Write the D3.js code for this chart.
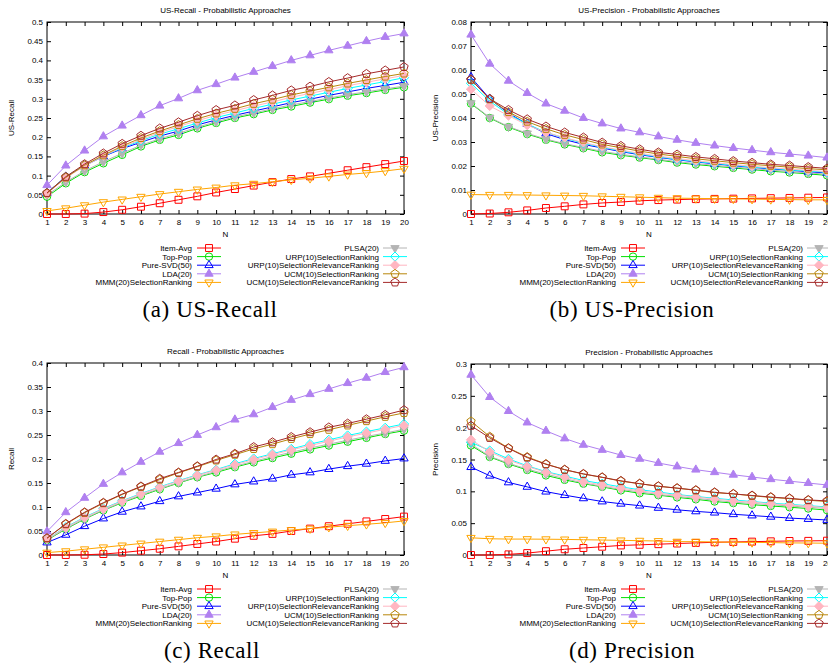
<!DOCTYPE html>
<html>
<head>
<meta charset="utf-8">
<script src="https://cdn.jsdelivr.net/npm/d3@7"></script>
<style>
  body { margin: 0; background: #fff; }
  svg { display: block; }
  text { font-family: "Liberation Sans", Arial, sans-serif; }
  .caption { font-family: "Liberation Serif", "DejaVu Serif", serif; }
</style>
</head>
<body>
<svg id="chart" width="828" height="666"></svg>
<script>
const N = d3.range(1, 21);

const seriesNames = ['Item-Avg', 'Top-Pop', 'Pure-SVD(50)', 'LDA(20)', 'MMM(20)SelectionRanking',
    'PLSA(20)', 'URP(10)SelectionRanking', 'URP(10)SelectionRelevanceRanking',
    'UCM(10)SelectionRanking', 'UCM(10)SelectionRelevanceRanking'];

// one row per series, same order as seriesNames
const usRecall = [
    [0.000, 0.000, 0.001, 0.005, 0.011, 0.019, 0.028, 0.037, 0.046, 0.056, 0.065, 0.074, 0.083, 0.091, 0.098, 0.106, 0.114, 0.122, 0.130, 0.138],
    [0.045, 0.080, 0.109, 0.132, 0.154, 0.176, 0.193, 0.206, 0.223, 0.237, 0.250, 0.260, 0.271, 0.280, 0.290, 0.299, 0.308, 0.315, 0.323, 0.330],
    [0.055, 0.097, 0.126, 0.150, 0.170, 0.187, 0.203, 0.216, 0.232, 0.245, 0.257, 0.268, 0.279, 0.290, 0.299, 0.309, 0.318, 0.327, 0.335, 0.343],
    [0.075, 0.126, 0.165, 0.202, 0.230, 0.257, 0.282, 0.301, 0.322, 0.338, 0.355, 0.370, 0.385, 0.400, 0.413, 0.426, 0.438, 0.450, 0.461, 0.470],
    [0.008, 0.015, 0.023, 0.031, 0.038, 0.045, 0.052, 0.058, 0.064, 0.069, 0.075, 0.079, 0.084, 0.089, 0.093, 0.098, 0.103, 0.107, 0.112, 0.118],
    [0.049, 0.083, 0.112, 0.136, 0.158, 0.179, 0.196, 0.210, 0.226, 0.240, 0.253, 0.263, 0.274, 0.284, 0.293, 0.302, 0.311, 0.318, 0.326, 0.333],
    [0.055, 0.097, 0.126, 0.151, 0.172, 0.191, 0.208, 0.222, 0.237, 0.251, 0.263, 0.275, 0.286, 0.297, 0.307, 0.317, 0.327, 0.336, 0.345, 0.355],
    [0.053, 0.094, 0.125, 0.151, 0.174, 0.194, 0.212, 0.228, 0.243, 0.257, 0.269, 0.281, 0.292, 0.304, 0.314, 0.324, 0.334, 0.343, 0.352, 0.361],
    [0.054, 0.095, 0.127, 0.153, 0.177, 0.198, 0.216, 0.232, 0.248, 0.262, 0.274, 0.287, 0.298, 0.310, 0.320, 0.330, 0.340, 0.349, 0.358, 0.366],
    [0.055, 0.097, 0.130, 0.158, 0.183, 0.204, 0.223, 0.239, 0.256, 0.271, 0.283, 0.297, 0.309, 0.322, 0.332, 0.344, 0.354, 0.365, 0.374, 0.383]
];

const usPrecision = [
    [0.0000, 0.0002, 0.0007, 0.0015, 0.0025, 0.0032, 0.0040, 0.0046, 0.0050, 0.0055, 0.0058, 0.0060, 0.0062, 0.0063, 0.0064, 0.0065, 0.0066, 0.0067, 0.0068, 0.0069],
    [0.0460, 0.0400, 0.0362, 0.0333, 0.0309, 0.0290, 0.0274, 0.0257, 0.0245, 0.0235, 0.0225, 0.0214, 0.0206, 0.0199, 0.0192, 0.0185, 0.0178, 0.0173, 0.0167, 0.0161],
    [0.0570, 0.0480, 0.0420, 0.0375, 0.0335, 0.0310, 0.0290, 0.0275, 0.0260, 0.0247, 0.0236, 0.0226, 0.0217, 0.0209, 0.0201, 0.0194, 0.0188, 0.0182, 0.0176, 0.0171],
    [0.0747, 0.0626, 0.0555, 0.0504, 0.0460, 0.0430, 0.0400, 0.0377, 0.0356, 0.0340, 0.0323, 0.0309, 0.0296, 0.0285, 0.0275, 0.0266, 0.0257, 0.0250, 0.0243, 0.0235],
    [0.0081, 0.0080, 0.0080, 0.0079, 0.0078, 0.0077, 0.0076, 0.0074, 0.0072, 0.0070, 0.0068, 0.0066, 0.0065, 0.0064, 0.0063, 0.0062, 0.0061, 0.0060, 0.0059, 0.0059],
    [0.0462, 0.0402, 0.0364, 0.0336, 0.0312, 0.0293, 0.0277, 0.0261, 0.0249, 0.0238, 0.0228, 0.0218, 0.0210, 0.0203, 0.0196, 0.0189, 0.0183, 0.0177, 0.0171, 0.0166],
    [0.0545, 0.0470, 0.0415, 0.0375, 0.0340, 0.0316, 0.0295, 0.0278, 0.0263, 0.0250, 0.0238, 0.0228, 0.0219, 0.0211, 0.0203, 0.0196, 0.0190, 0.0184, 0.0179, 0.0174],
    [0.0520, 0.0450, 0.0410, 0.0370, 0.0340, 0.0318, 0.0298, 0.0280, 0.0266, 0.0253, 0.0241, 0.0231, 0.0222, 0.0214, 0.0206, 0.0199, 0.0193, 0.0187, 0.0182, 0.0177],
    [0.0560, 0.0478, 0.0425, 0.0385, 0.0355, 0.0330, 0.0310, 0.0290, 0.0276, 0.0262, 0.0250, 0.0240, 0.0230, 0.0222, 0.0214, 0.0207, 0.0201, 0.0195, 0.0189, 0.0184],
    [0.0560, 0.0480, 0.0434, 0.0395, 0.0365, 0.0340, 0.0319, 0.0298, 0.0284, 0.0270, 0.0257, 0.0248, 0.0238, 0.0230, 0.0221, 0.0214, 0.0207, 0.0202, 0.0196, 0.0190]
];

const recall = [
    [0.000, 0.000, 0.0005, 0.002, 0.005, 0.009, 0.013, 0.018, 0.023, 0.028, 0.034, 0.040, 0.044, 0.050, 0.055, 0.060, 0.065, 0.070, 0.075, 0.080],
    [0.031, 0.054, 0.075, 0.093, 0.109, 0.123, 0.137, 0.150, 0.162, 0.172, 0.183, 0.193, 0.202, 0.211, 0.220, 0.228, 0.236, 0.244, 0.252, 0.259],
    [0.026, 0.042, 0.060, 0.076, 0.090, 0.101, 0.112, 0.122, 0.130, 0.138, 0.147, 0.153, 0.159, 0.167, 0.172, 0.179, 0.185, 0.190, 0.196, 0.201],
    [0.049, 0.089, 0.119, 0.148, 0.172, 0.194, 0.215, 0.233, 0.250, 0.266, 0.282, 0.293, 0.308, 0.323, 0.335, 0.346, 0.358, 0.369, 0.381, 0.391],
    [0.005, 0.008, 0.012, 0.016, 0.020, 0.024, 0.028, 0.032, 0.036, 0.039, 0.043, 0.046, 0.049, 0.052, 0.055, 0.058, 0.061, 0.064, 0.067, 0.071],
    [0.032, 0.055, 0.076, 0.094, 0.110, 0.125, 0.138, 0.151, 0.163, 0.174, 0.185, 0.195, 0.205, 0.214, 0.223, 0.231, 0.239, 0.247, 0.254, 0.262],
    [0.033, 0.058, 0.079, 0.097, 0.113, 0.128, 0.142, 0.155, 0.167, 0.178, 0.190, 0.201, 0.211, 0.221, 0.231, 0.240, 0.249, 0.257, 0.265, 0.273],
    [0.033, 0.057, 0.078, 0.096, 0.112, 0.127, 0.141, 0.154, 0.166, 0.177, 0.188, 0.199, 0.209, 0.219, 0.228, 0.237, 0.246, 0.254, 0.262, 0.270],
    [0.035, 0.064, 0.088, 0.108, 0.126, 0.142, 0.157, 0.171, 0.184, 0.197, 0.209, 0.221, 0.231, 0.242, 0.252, 0.261, 0.270, 0.279, 0.288, 0.296],
    [0.035, 0.065, 0.089, 0.109, 0.127, 0.143, 0.159, 0.172, 0.185, 0.199, 0.211, 0.225, 0.235, 0.246, 0.256, 0.266, 0.274, 0.283, 0.292, 0.302]
];

const precision = [
    [0.000, 0.000, 0.001, 0.003, 0.006, 0.009, 0.011, 0.013, 0.015, 0.016, 0.017, 0.018, 0.019, 0.020, 0.0205, 0.021, 0.0215, 0.022, 0.0222, 0.0225],
    [0.172, 0.154, 0.143, 0.1335, 0.125, 0.118, 0.112, 0.107, 0.1015, 0.097, 0.094, 0.0905, 0.0875, 0.084, 0.0815, 0.079, 0.077, 0.075, 0.073, 0.0705],
    [0.138, 0.1245, 0.114, 0.107, 0.0995, 0.094, 0.089, 0.084, 0.0805, 0.0775, 0.074, 0.071, 0.0685, 0.0665, 0.064, 0.062, 0.060, 0.058, 0.0565, 0.055],
    [0.283, 0.248, 0.226, 0.208, 0.195, 0.183, 0.173, 0.165, 0.157, 0.151, 0.1445, 0.139, 0.134, 0.130, 0.126, 0.1225, 0.119, 0.116, 0.113, 0.110],
    [0.027, 0.0255, 0.025, 0.025, 0.0248, 0.0245, 0.024, 0.0235, 0.023, 0.0225, 0.022, 0.021, 0.021, 0.0205, 0.020, 0.0198, 0.0195, 0.019, 0.0188, 0.0185],
    [0.174, 0.155, 0.144, 0.135, 0.127, 0.120, 0.113, 0.108, 0.103, 0.099, 0.095, 0.092, 0.089, 0.086, 0.083, 0.081, 0.079, 0.077, 0.075, 0.073],
    [0.177, 0.164, 0.151, 0.140, 0.131, 0.124, 0.117, 0.112, 0.107, 0.1025, 0.099, 0.095, 0.092, 0.089, 0.0865, 0.084, 0.0815, 0.0795, 0.0775, 0.0755],
    [0.181, 0.162, 0.149, 0.139, 0.130, 0.1225, 0.115, 0.110, 0.105, 0.101, 0.097, 0.094, 0.091, 0.088, 0.085, 0.083, 0.0805, 0.0785, 0.0765, 0.0745],
    [0.210, 0.186, 0.168, 0.154, 0.143, 0.134, 0.127, 0.122, 0.116, 0.112, 0.108, 0.105, 0.1015, 0.098, 0.096, 0.093, 0.0905, 0.0885, 0.086, 0.084],
    [0.203, 0.184, 0.1675, 0.153, 0.1425, 0.134, 0.1275, 0.122, 0.1165, 0.112, 0.108, 0.105, 0.102, 0.0985, 0.096, 0.0935, 0.091, 0.089, 0.0865, 0.085]
];

const usRecallTicks = d3.range(0, 0.5001, 0.05);
const usPrecisionTicks = d3.range(0, 0.0801, 0.01);
const recallTicks = d3.range(0, 0.4001, 0.05);
const precisionTicks = d3.range(0, 0.3001, 0.05);

// styles
const colors = ['#ff0000', '#00e000', '#0000ff', '#b080f0', '#ffa500',
    '#b4b4b4', '#00ffff', '#ffb6c1', '#b8860b', '#a52a2a'];
const marks = [
    {sides: 4, rot: 45, r: 4.9, fill: false},   // square
    {sides: 0, r: 3.7, fill: false},            // circle
    {sides: 3, rot: -90, r: 4.8, fill: false},  // triangle
    {sides: 3, rot: -90, r: 4.8, fill: true},
    {sides: 3, rot: 90, r: 4.8, fill: false},   // down triangle
    {sides: 3, rot: 90, r: 4.8, fill: true},
    {sides: 4, rot: -90, r: 4.6, fill: false},  // diamond
    {sides: 4, rot: -90, r: 4.6, fill: true},
    {sides: 5, rot: -90, r: 4.4, fill: false},  // pentagon
    {sides: 5, rot: -90, r: 4.4, fill: false}
];

const panels = [
    {data: usRecall, ticks: usRecallTicks, max: 0.5, left: 47, right: 404, top: 22, bottom: 214,
        title: 'US-Recall - Probabilistic Approaches', ylabel: 'US-Recall', caption: '(a) US-Recall', cx: 210},
    {data: usPrecision, ticks: usPrecisionTicks, max: 0.08, left: 471, right: 827, top: 22, bottom: 214,
        title: 'US-Precision - Probabilistic Approaches', ylabel: 'US-Precision', caption: '(b) US-Precision', cx: 632},
    {data: recall, ticks: recallTicks, max: 0.4, left: 47, right: 404, top: 363, bottom: 555,
        title: 'Recall - Probabilistic Approaches', ylabel: 'Recall', caption: '(c) Recall', cx: 212},
    {data: precision, ticks: precisionTicks, max: 0.3, left: 471, right: 827, top: 364, bottom: 555,
        title: 'Precision - Probabilistic Approaches', ylabel: 'Precision', caption: '(d) Precision', cx: 632}
];

const svg = d3.select('#chart');
const fmt = d => String(+d.toFixed(3));

function markPath(m) {
    if (m.sides === 0) {
        const p = d3.path();
        p.arc(0, 0, m.r, 0, 2 * Math.PI);
        return p.toString();
    }
    const pts = d3.range(m.sides).map(i => {
        const a = (m.rot + i * 360 / m.sides) * Math.PI / 180;
        return [m.r * Math.cos(a), m.r * Math.sin(a)];
    });
    return d3.line()(pts) + 'Z';
}

function drawMark(g, i, x, y) {
    g.append('path')
        .attr('d', markPath(marks[i]))
        .attr('transform', `translate(${x},${y})`)
        .attr('fill', marks[i].fill ? colors[i] : 'none')
        .attr('stroke', colors[i])
        .attr('stroke-width', 1);
}

panels.forEach(p => {
    const g = svg.append('g');
    const x = d3.scaleLinear().domain([1, 20]).range([p.left, p.right]);
    const y = d3.scaleLinear().domain([0, p.max]).range([p.bottom, p.top]);

    // axes with inward ticks, mirrored on top/right
    const styleAxis = sel => {
        sel.select('.domain').remove();
        sel.selectAll('text').attr('font-size', 8).attr('font-family', '"Liberation Sans", Arial, sans-serif').attr('fill', '#000');
        sel.selectAll('line').attr('stroke', '#000');
    };
    g.append('g').attr('transform', `translate(${p.left},0)`)
        .call(d3.axisLeft(y).tickValues(p.ticks).tickFormat(fmt).tickSize(-4).tickPadding(4)).call(styleAxis);
    g.append('g').attr('transform', `translate(${p.right},0)`)
        .call(d3.axisRight(y).tickValues(p.ticks).tickFormat('').tickSize(-4)).call(styleAxis);
    g.append('g').attr('transform', `translate(0,${p.bottom})`)
        .call(d3.axisBottom(x).tickValues(N).tickFormat(d3.format('d')).tickSize(-4).tickPadding(5)).call(styleAxis);
    g.append('g').attr('transform', `translate(0,${p.top})`)
        .call(d3.axisTop(x).tickValues(N).tickFormat('').tickSize(-4)).call(styleAxis);

    g.append('rect')
        .attr('x', p.left).attr('y', p.top)
        .attr('width', p.right - p.left).attr('height', p.bottom - p.top)
        .attr('fill', 'none').attr('stroke', '#000').attr('stroke-width', 1);

    // series, drawn in legend order
    const line = d3.line().x((d, i) => x(N[i])).y(d => y(d));
    p.data.forEach((vals, si) => {
        g.append('path')
            .datum(vals)
            .attr('fill', 'none')
            .attr('stroke', colors[si])
            .attr('stroke-width', 1)
            .attr('d', line);
        vals.forEach((v, i) => drawMark(g, si, x(N[i]), y(v)));
    });

    // titles and labels
    g.append('text').attr('x', (p.left + p.right) / 2).attr('y', p.top - 9)
        .attr('text-anchor', 'middle').attr('font-size', 8).text(p.title);
    g.append('text').attr('x', (p.left + p.right) / 2).attr('y', p.bottom + 23)
        .attr('text-anchor', 'middle').attr('font-size', 8).text('N');
    g.append('text')
        .attr('transform', `translate(${p.left - 36},${(p.top + p.bottom) / 2}) rotate(-90)`)
        .attr('text-anchor', 'middle').attr('dominant-baseline', 'central')
        .attr('font-size', 8).text(p.ylabel);

    // legend, two columns of five
    seriesNames.forEach((name, si) => {
        const col = si < 5 ? 0 : 1;
        const row = si % 5;
        const ly = p.bottom + 34 + row * 8.6;
        const tx = p.left + (col ? 332 : 145);
        const lx0 = p.left + (col ? 336 : 150);
        const lx1 = lx0 + 24;
        g.append('text').attr('x', tx).attr('y', ly + 3)
            .attr('text-anchor', 'end').attr('font-size', 8).text(name);
        g.append('line').attr('x1', lx0).attr('x2', lx1).attr('y1', ly).attr('y2', ly)
            .attr('stroke', colors[si]).attr('stroke-width', 1);
        drawMark(g, si, (lx0 + lx1) / 2, ly);
    });

    g.append('text').attr('class', 'caption')
        .attr('x', p.cx).attr('y', p.bottom + 103)
        .attr('text-anchor', 'middle').attr('font-size', 23)
        .attr('letter-spacing', 0.6)
        .text(p.caption);
});
</script>
</body>
</html>
